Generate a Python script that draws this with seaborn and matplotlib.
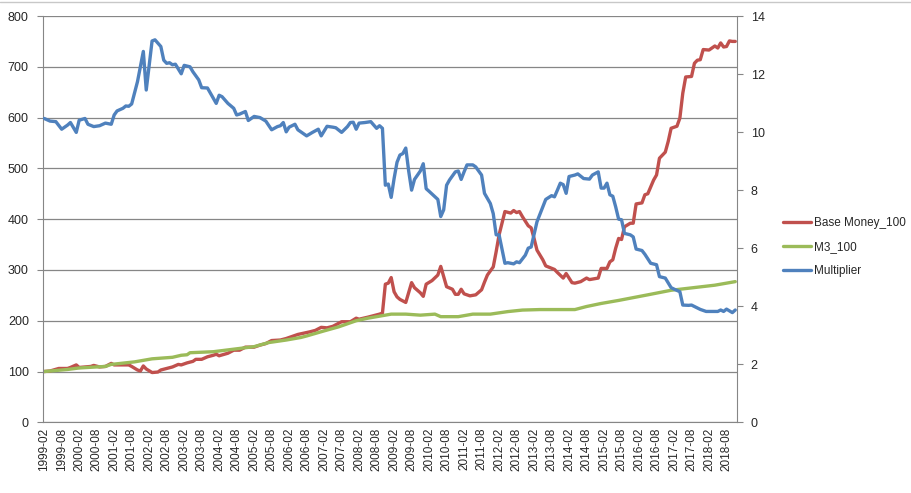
import numpy as np
import pandas as pd
import matplotlib.pyplot as plt
import seaborn as sns
from matplotlib.lines import Line2D

# monthly category axis
months = pd.period_range("1999-02", "2018-11", freq="M")
month_labels = [str(p) for p in months]

# Base Money index (left axis)
base_dates = ["1999-02", "1999-04", "1999-07", "1999-10", "1999-11", "2000-01", "2000-02",
              "2000-06", "2000-07", "2000-09", "2000-11", "2001-01", "2001-02", "2001-07",
              "2001-08", "2001-10", "2001-11", "2001-12", "2002-01", "2002-03", "2002-05",
              "2002-06", "2002-08", "2002-10", "2002-12", "2003-01", "2003-03", "2003-05",
              "2003-06", "2003-08", "2003-10", "2003-12", "2004-01", "2004-02", "2004-05",
              "2004-07", "2004-09", "2004-11", "2005-02", "2005-04", "2005-06", "2005-08",
              "2005-11", "2006-01", "2006-02", "2006-05", "2006-09", "2006-11", "2007-01",
              "2007-03", "2007-05", "2007-06", "2007-08", "2007-11", "2008-01", "2008-02",
              "2008-05", "2008-07", "2008-09", "2008-10", "2008-11", "2008-12", "2009-01",
              "2009-02", "2009-03", "2009-04", "2009-06", "2009-08", "2009-09", "2009-11",
              "2009-12", "2010-01", "2010-03", "2010-05", "2010-06", "2010-08", "2010-10",
              "2010-11", "2010-12", "2011-01", "2011-02", "2011-04", "2011-06", "2011-08",
              "2011-09", "2011-10", "2011-12", "2012-01", "2012-02", "2012-04", "2012-06",
              "2012-07", "2012-08", "2012-09", "2012-10", "2012-12", "2013-01", "2013-02",
              "2013-03", "2013-05", "2013-06", "2013-09", "2013-10", "2013-12", "2014-01",
              "2014-03", "2014-04", "2014-06", "2014-08", "2014-09", "2014-12", "2015-01",
              "2015-03", "2015-04", "2015-05", "2015-06", "2015-07", "2015-08", "2015-09",
              "2015-11", "2015-12", "2016-01", "2016-03", "2016-04", "2016-05", "2016-07",
              "2016-08", "2016-09", "2016-11", "2016-12", "2017-01", "2017-03", "2017-04",
              "2017-05", "2017-06", "2017-08", "2017-09", "2017-10", "2017-11", "2017-12",
              "2018-02", "2018-04", "2018-05", "2018-06", "2018-07", "2018-08", "2018-09",
              "2018-10", "2018-11"]
base_vals = [100, 101, 106, 106, 108, 113, 108,
             110, 112, 109, 110, 116, 113, 113,
             110, 103, 101, 111, 105, 98, 99,
             103, 106, 109, 114, 113, 117, 120,
             124, 124, 129, 132, 134, 131, 136,
             142, 142, 148, 148, 152, 155, 161,
             162, 165, 167, 173, 178, 181, 187,
             186, 189, 192, 198, 198, 205, 203,
             207, 210, 213, 215, 272, 274, 285,
             257, 247, 242, 236, 275, 265, 255,
             248, 272, 279, 290, 307, 267, 262,
             252, 252, 262, 253, 249, 251, 261,
             276, 290, 306, 336, 369, 415, 412,
             417, 413, 415, 405, 387, 383, 362,
             339, 320, 308, 301, 295, 284, 293,
             275, 274, 277, 284, 281, 284, 303,
             303, 316, 320, 343, 362, 360, 385,
             392, 392, 430, 432, 448, 450, 477,
             487, 520, 532, 553, 579, 583, 599,
             648, 680, 681, 707, 713, 714, 734,
             733, 741, 737, 747, 739, 740, 751,
             750, 750]

# M3 index (left axis)
m3_dates = ["1999-02", "1999-10", "2000-02", "2000-11", "2001-01", "2001-09", "2002-03",
            "2002-10", "2003-01", "2003-03", "2003-04", "2003-12", "2004-07", "2005-02",
            "2005-07", "2006-01", "2006-06", "2006-08", "2007-02", "2007-07", "2008-01",
            "2008-05", "2008-09", "2009-01", "2009-06", "2009-11", "2010-04", "2010-06",
            "2010-12", "2011-02", "2011-05", "2011-11", "2012-05", "2012-10", "2013-04",
            "2014-04", "2014-08", "2015-01", "2015-07", "2016-05", "2017-01", "2018-04",
            "2018-11"]
m3_vals = [100, 104, 107, 110, 114, 119, 125,
           128, 132, 133, 137, 139, 144, 149,
           157, 162, 167, 170, 180, 188, 200,
           205, 209, 213, 213, 211, 213, 208,
           208, 210, 213, 213, 218, 221, 222,
           222, 228, 234, 240, 251, 260, 270,
           277]

# money multiplier (right axis)
mult_dates = ["1999-02", "1999-04", "1999-06", "1999-08", "1999-10", "1999-11", "2000-01",
              "2000-02", "2000-04", "2000-05", "2000-07", "2000-09", "2000-11", "2001-01",
              "2001-02", "2001-03", "2001-05", "2001-06", "2001-07", "2001-08", "2001-10",
              "2001-12", "2002-01", "2002-03", "2002-04", "2002-06", "2002-07", "2002-08",
              "2002-09", "2002-10", "2002-11", "2003-01", "2003-02", "2003-04", "2003-05",
              "2003-07", "2003-08", "2003-10", "2004-01", "2004-02", "2004-03", "2004-05",
              "2004-07", "2004-08", "2004-09", "2004-11", "2004-12", "2005-02", "2005-04",
              "2005-06", "2005-08", "2005-10", "2005-11", "2005-12", "2006-01", "2006-02",
              "2006-04", "2006-05", "2006-08", "2006-10", "2006-12", "2007-01", "2007-03",
              "2007-05", "2007-06", "2007-08", "2007-10", "2007-11", "2007-12", "2008-01",
              "2008-02", "2008-04", "2008-06", "2008-08", "2008-09", "2008-10", "2008-11",
              "2008-12", "2009-01", "2009-02", "2009-03", "2009-04", "2009-05", "2009-06",
              "2009-07", "2009-08", "2009-09", "2009-11", "2009-12", "2010-01", "2010-02",
              "2010-05", "2010-06", "2010-07", "2010-08", "2010-09", "2010-11", "2010-12",
              "2011-01", "2011-02", "2011-03", "2011-05", "2011-06", "2011-08", "2011-09",
              "2011-11", "2011-12", "2012-01", "2012-02", "2012-04", "2012-05", "2012-07",
              "2012-08", "2012-09", "2012-11", "2012-12", "2013-01", "2013-03", "2013-05",
              "2013-06", "2013-08", "2013-09", "2013-10", "2013-11", "2013-12", "2014-01",
              "2014-02", "2014-04", "2014-05", "2014-07", "2014-09", "2014-10", "2014-12",
              "2015-01", "2015-02", "2015-03", "2015-04", "2015-05", "2015-06", "2015-07",
              "2015-08", "2015-09", "2015-11", "2015-12", "2016-01", "2016-03", "2016-04",
              "2016-06", "2016-08", "2016-09", "2016-11", "2017-01", "2017-02", "2017-04",
              "2017-05", "2017-07", "2017-08", "2017-11", "2018-01", "2018-03", "2018-05",
              "2018-06", "2018-07", "2018-08", "2018-10", "2018-11"]
mult_vals = [10.47, 10.38, 10.36, 10.10, 10.24, 10.33, 9.99,
             10.41, 10.47, 10.27, 10.19, 10.22, 10.31, 10.27,
             10.59, 10.73, 10.82, 10.90, 10.89, 10.97, 11.74,
             12.78, 11.45, 13.14, 13.18, 12.95, 12.48, 12.37,
             12.39, 12.32, 12.34, 12.01, 12.30, 12.25, 12.08,
             11.80, 11.53, 11.52, 10.99, 11.27, 11.22, 10.99,
             10.82, 10.59, 10.62, 10.71, 10.40, 10.54, 10.50,
             10.38, 10.08, 10.19, 10.22, 10.33, 10.01, 10.17,
             10.27, 10.08, 9.87, 9.99, 10.10, 9.87, 10.20,
             10.17, 10.15, 9.99, 10.19, 10.33, 10.34, 10.10,
             10.31, 10.33, 10.36, 10.13, 10.22, 10.13, 8.17,
             8.21, 7.75, 8.40, 8.96, 9.21, 9.26, 9.45,
             8.66, 8.00, 8.37, 8.66, 8.91, 8.05, 7.96,
             7.68, 7.09, 7.32, 8.17, 8.35, 8.63, 8.66,
             8.37, 8.63, 8.87, 8.87, 8.80, 8.52, 7.89,
             7.54, 7.19, 6.46, 6.46, 5.48, 5.50, 5.46,
             5.53, 5.50, 5.76, 6.00, 6.04, 6.91, 7.42,
             7.68, 7.81, 7.77, 8.00, 8.24, 8.19, 7.89,
             8.47, 8.52, 8.56, 8.40, 8.38, 8.52, 8.63,
             8.07, 8.07, 8.24, 7.84, 7.79, 7.42, 7.00,
             6.98, 6.51, 6.46, 6.39, 5.97, 5.92, 5.79,
             5.48, 5.43, 5.02, 4.97, 4.64, 4.59, 4.50,
             4.04, 4.03, 4.04, 3.89, 3.82, 3.82, 3.82,
             3.87, 3.82, 3.90, 3.78, 3.87]

series_names = ["Base Money_100", "M3_100", "Multiplier"]
colors = ["#C0504D", "#9BBB59", "#4F81BD"]


def to_frame(dates, vals):
    pos = [month_labels.index(d) for d in dates]
    return pd.DataFrame({"month": pos, "value": vals})


base_df = to_frame(base_dates, base_vals)
m3_df = to_frame(m3_dates, m3_vals)
mult_df = to_frame(mult_dates, mult_vals)

sns.set_style("white")
plt.rcParams["font.family"] = ["Liberation Sans", "DejaVu Sans"]

grid_col = "#868686"
fig = plt.figure(figsize=(9.11, 4.93), dpi=100)
ax = fig.add_axes([0.0469, 0.1434, 0.7618, 0.8241])
ax2 = ax.twinx()

sns.lineplot(data=base_df, x="month", y="value", ax=ax, color=colors[0], lw=2.4)
sns.lineplot(data=m3_df, x="month", y="value", ax=ax, color=colors[1], lw=2.4)
sns.lineplot(data=mult_df, x="month", y="value", ax=ax2, color=colors[2], lw=2.4)

ax.set_xlim(-0.5, len(month_labels) - 0.5)
ax.set_ylim(0, 800)
ax.set_yticks(range(0, 801, 100))
ax2.set_ylim(0, 14)
ax2.set_yticks(range(0, 15, 2))
ax.set_xticks(range(0, len(month_labels), 6))
ax.set_xticklabels(month_labels[::6], rotation=90, fontsize=8.5)
ax.set_xlabel("")
ax.set_ylabel("")
ax2.set_ylabel("")

ax.grid(axis="y", color=grid_col, lw=0.9)
ax.grid(axis="x", visible=False)
ax2.grid(False)
ax.set_axisbelow(True)

for a in (ax, ax2):
    for s in a.spines.values():
        s.set_visible(False)
ax.spines["left"].set_visible(True)
ax.spines["left"].set_color(grid_col)
ax.spines["bottom"].set_visible(True)
ax.spines["bottom"].set_color(grid_col)
ax2.spines["right"].set_visible(True)
ax2.spines["right"].set_color(grid_col)

ax.tick_params(axis="x", length=0, pad=4, labelsize=8.5)
ax.tick_params(axis="y", length=4, color=grid_col, labelsize=9, pad=6, left=True)
ax2.tick_params(axis="y", length=4, color=grid_col, labelsize=9, pad=6, right=True)

# legend outside on the right
handles = [Line2D([], [], color=c, lw=2.4) for c in colors]
fig.legend(handles, series_names, loc="center left",
           bbox_to_anchor=(783 / 911, 1 - 247 / 493), frameon=False,
           fontsize=8.5, handlelength=2.4, handletextpad=0.2,
           labelspacing=1.0, borderpad=0, borderaxespad=0)

# faint sheet border at the top
fig.add_artist(Line2D([0, 1], [0.996, 0.996], color="#c8c8c8", lw=1))

fig.savefig("out.png", dpi=100)
